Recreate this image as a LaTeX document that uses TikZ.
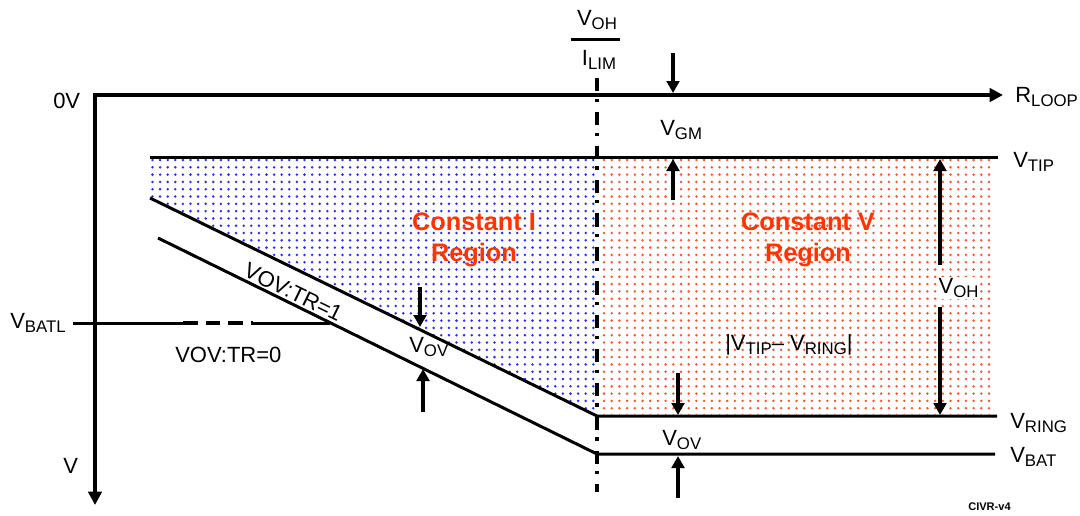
\documentclass[tikz,border=0pt]{standalone}
\usepackage{fontspec}
\setmainfont{Liberation Sans}
\usetikzlibrary{arrows.meta}
\newcommand{\sbs}[1]{\raisebox{-3.4pt}{\fontsize{12.6}{13}\selectfont #1}}
\definecolor{regred}{RGB}{255,51,0}
\definecolor{dotblue}{RGB}{45,45,255}
\definecolor{dotorange}{RGB}{255,85,50}
\begin{document}
\begin{tikzpicture}[x=0.75pt,y=-0.75pt,
  lbl/.style={font=\fontsize{16.5}{18}\selectfont, inner sep=0pt, anchor=base west},
  reg/.style={font=\fontsize{19}{23.3}\selectfont\bfseries, text=regred, align=center, inner sep=0pt},
  ln/.style={line width=2.25pt},
  axisline/.style={line width=3pt, {Triangle[length=10pt,width=10pt]}-{Triangle[length=10pt,width=10pt]}},
  arr/.style={line width=2.4pt, -{Triangle[length=9pt,width=9.5pt]}}]
\useasboundingbox (0,0) rectangle (1080,515);
% coordinates
\coordinate (O) at (95,95);
\coordinate (xend) at (1003,95);
\coordinate (yend) at (95,505);
\coordinate (tipL) at (150,157);
\coordinate (tipM) at (597,157);
\coordinate (tipR) at (998,157);
\coordinate (dotR) at (992,157);
\coordinate (dotRB) at (992,416);
\coordinate (slopeA) at (150,198);
\coordinate (kneeA) at (597,416);
\coordinate (ringR) at (997,416);
\coordinate (slopeB) at (158,238);
\coordinate (kneeB) at (597,454);
\coordinate (batR) at (995,454);
\coordinate (batlL) at (73,323);
\coordinate (batlA) at (183,323);
\coordinate (batlB) at (253,323);
\coordinate (batlC) at (330,323);
\coordinate (dt) at (597,78);
\coordinate (db) at (597,492);
% regions
\begin{scope}
\clip (tipL) -- (tipM) -- (kneeA) -- (slopeA) -- cycle;
\foreach \y in {160,167.3,...,416} {
  \foreach \x in {152.5,160.1,...,597} { \fill[dotblue] (\x,\y) circle (1.05pt); }
}
\end{scope}
\begin{scope}
\clip (tipM) -- (dotR) -- (dotRB) -- (kneeA) -- cycle;
\foreach \y in {160,167.3,...,416} {
  \foreach \x in {604,611.7,...,992} { \fill[dotorange] (\x,\y) circle (1.05pt); }
}
\end{scope}
% lines
\draw[axisline] (xend) -- (O) -- (yend);
\draw[ln] (tipL) -- (tipR);
\draw[ln] (slopeA) -- (kneeA) -- (ringR);
\draw[ln] (slopeB) -- (kneeB) -- (batR);
\draw[ln] (batlL) -- (batlA);
\draw[line width=3pt, dash pattern=on 11pt off 6pt] (batlA) -- (batlB);
\draw[ln] (batlB) -- (batlC);
\draw[line width=3.2pt, dash pattern=on 10pt off 5.5pt on 2.4pt off 7.5pt] (dt) -- (db);
% fraction
\node[lbl, anchor=base] (fnum) at (597,25) {V\sbs{OH}};
\node[lbl, anchor=base] (fden) at (599,65) {I\sbs{LIM}};
\coordinate (fbl) at (571,39);
\coordinate (fbr) at (620,39);
\draw[line width=2.25pt] (fbl) -- (fbr);
% labels
\node[lbl] (zero) at (53,108) {0V};
\node[lbl] (rloop) at (1015,102) {R\sbs{LOOP}};
\node[lbl] (vtip) at (1013,167) {V\sbs{TIP}};
\node[lbl] (vring) at (1010,428) {V\sbs{RING}};
\node[lbl] (vbat) at (1010,462) {V\sbs{BAT}};
\node[lbl] (vbatl) at (10,328) {V\sbs{BATL}};
\node[lbl] (vax) at (63,473) {V};
\node[lbl] (tr0) at (175,362) {VOV:TR=0};
\node[lbl, anchor=base, rotate=-26] (tr1) at (290,299) {VOV:TR=1};
\node[lbl] (vgm) at (660,135) {V\sbs{GM}};
\node[lbl] (vovr) at (662,445) {V\sbs{OV}};
\node[lbl] (vovl) at (409,352) {V\sbs{OV}};
\node[lbl, fill=white, inner sep=1pt] (vohr) at (937,293) {V\sbs{OH}};
\node[lbl] (diff) at (725,350) {|V\sbs{TIP}– V\sbs{RING}|};
\node[reg] (ci) at (474,240) {Constant I\\Region};
\node[reg] (cv) at (808,240) {Constant V\\Region};
\node[inner sep=0pt, anchor=base west, font=\fontsize{8.3}{9}\selectfont\bfseries] (civr) at (968,510) {CIVR-v4};
% arrows
\coordinate (gm1) at (673,53);  \coordinate (gm2) at (673,93);
\coordinate (gm3) at (673,200); \coordinate (gm4) at (673,159);
\draw[arr] (gm1) -- (gm2);
\draw[arr] (gm3) -- (gm4);
\coordinate (or1) at (678,373); \coordinate (or2) at (678,415);
\coordinate (or3) at (678,498); \coordinate (or4) at (678,456);
\draw[arr] (or1) -- (or2);
\draw[arr] (or3) -- (or4);
\coordinate (ol1) at (420,287); \coordinate (ol2) at (420,327);
\coordinate (ol3) at (423,412); \coordinate (ol4) at (423,369);
\draw[arr] (ol1) -- (ol2);
\draw[arr] (ol3) -- (ol4);
\coordinate (oh1) at (940,265); \coordinate (oh2) at (940,159);
\coordinate (oh3) at (940,307); \coordinate (oh4) at (940,415);
\draw[arr] (oh1) -- (oh2);
\draw[arr] (oh3) -- (oh4);
\end{tikzpicture}
\end{document}
